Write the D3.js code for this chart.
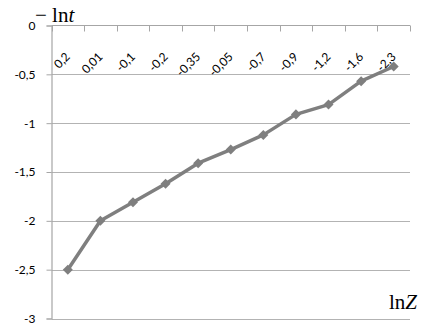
<!DOCTYPE html>
<html>
<head>
<meta charset="utf-8">
<script src="https://cdn.jsdelivr.net/npm/d3@7"></script>
<style>
  body { margin: 0; background: #fff; }
  svg { display: block; }
</style>
</head>
<body>
<svg id="chart"></svg>
<script>
var categories = ['0,2', '0,01', '-0,1', '-0,2', '-0,35', '-0,05', '-0,7', '-0,9', '-1,2', '-1,6', '-2,3'];
var values = [-2.5, -2.0, -1.81, -1.62, -1.41, -1.27, -1.12, -0.91, -0.81, -0.57, -0.42];
var yTicks = [0, -0.5, -1, -1.5, -2, -2.5, -3];

var width = 425, height = 328;
// note: "top" is reserved on window, so plot edges get their own names
var plotLeft = 51.5, plotRight = 410, plotTop = 25.5, plotBottom = 318.5;

var svg = d3.select('#chart').attr('width', width).attr('height', height);

var x = d3.scaleBand().domain(categories).range([plotLeft, plotRight]);
var y = d3.scaleLinear().domain([-3, 0]).range([plotBottom, plotTop]);

function fmt(v){ return String(v).replace('.', ','); }

// gridlines
svg.append('g')
  .selectAll('line')
  .data(yTicks.filter(function(v){ return v !== 0; }))
  .enter()
    .append('line')
    .attr('x1', plotLeft).attr('x2', plotRight)
    .attr('y1', function(d){ return Math.round(y(d)) + 0.5; })
    .attr('y2', function(d){ return Math.round(y(d)) + 0.5; })
    .attr('stroke', '#b3b3b3')
    .attr('stroke-width', 1.2);

// y axis
var yAxis = svg.append('g')
  .attr('transform', 'translate(' + plotLeft + ',0)')
  .call(d3.axisLeft(y).tickValues(yTicks).tickSize(5).tickPadding(11).tickFormat(fmt));
yAxis.select('.domain').attr('stroke', '#a6a6a6').attr('stroke-width', 1.2);
yAxis.selectAll('.tick line').attr('stroke', '#a6a6a6');
yAxis.selectAll('.tick text')
  .attr('fill', '#000')
  .attr('font-family', 'Lato, "Open Sans", sans-serif')
  .attr('font-size', 12);

// category axis along the zero line, ticks pointing down
var xAxis = svg.append('g')
  .attr('transform', 'translate(0,' + y(0) + ')');
xAxis.append('line')
  .attr('x1', plotLeft).attr('x2', plotRight)
  .attr('stroke', '#a6a6a6').attr('stroke-width', 1.2);
xAxis.selectAll('line.tk')
  .data(categories.concat(['end']))
  .enter()
    .append('line')
    .attr('class', 'tk')
    .attr('x1', function(d, i){ return Math.round(plotLeft + i * x.step()) + 0.5; })
    .attr('x2', function(d, i){ return Math.round(plotLeft + i * x.step()) + 0.5; })
    .attr('y1', 0).attr('y2', 6)
    .attr('stroke', '#a6a6a6');
xAxis.selectAll('text')
  .data(categories)
  .enter()
    .append('text')
    .attr('transform', function(d){
      return 'translate(' + (x(d) + x.bandwidth() / 2 + 3) + ',32) rotate(-45)';
    })
    .attr('text-anchor', 'end')
    .attr('font-family', 'Lato, "Open Sans", sans-serif')
    .attr('font-size', 12)
    .attr('fill', '#000')
    .text(function(d){ return d; });

// series
var line = d3.line()
  .x(function(d, i){ return x(categories[i]) + x.bandwidth() / 2; })
  .y(function(d){ return y(d); });

svg.append('path')
  .datum(values)
  .attr('d', line)
  .attr('fill', 'none')
  .attr('stroke', '#7f7f7f')
  .attr('stroke-width', 3.5)
  .attr('stroke-linejoin', 'round');

svg.append('g')
  .selectAll('path')
  .data(values)
  .enter()
    .append('path')
    .attr('d', d3.symbol().type(d3.symbolDiamond2).size(64))
    .attr('transform', function(d, i){
      return 'translate(' + (x(categories[i]) + x.bandwidth() / 2) + ',' + y(d) + ')';
    })
    .attr('fill', '#7f7f7f');

// axis titles
var yTitle = svg.append('text')
  .attr('x', 35).attr('y', 22)
  .attr('font-family', '"Liberation Serif", "DejaVu Serif", serif')
  .attr('font-size', 21)
  .attr('fill', '#000');
yTitle.append('tspan').text('\u2212 ln');
yTitle.append('tspan').attr('font-style', 'italic').text('t');

var xTitle = svg.append('text')
  .attr('x', 417).attr('y', 309)
  .attr('text-anchor', 'end')
  .attr('font-family', '"Liberation Serif", "DejaVu Serif", serif')
  .attr('font-size', 21)
  .attr('fill', '#000');
xTitle.append('tspan').text('ln');
xTitle.append('tspan').attr('font-style', 'italic').text('Z');
</script>
</body>
</html>
